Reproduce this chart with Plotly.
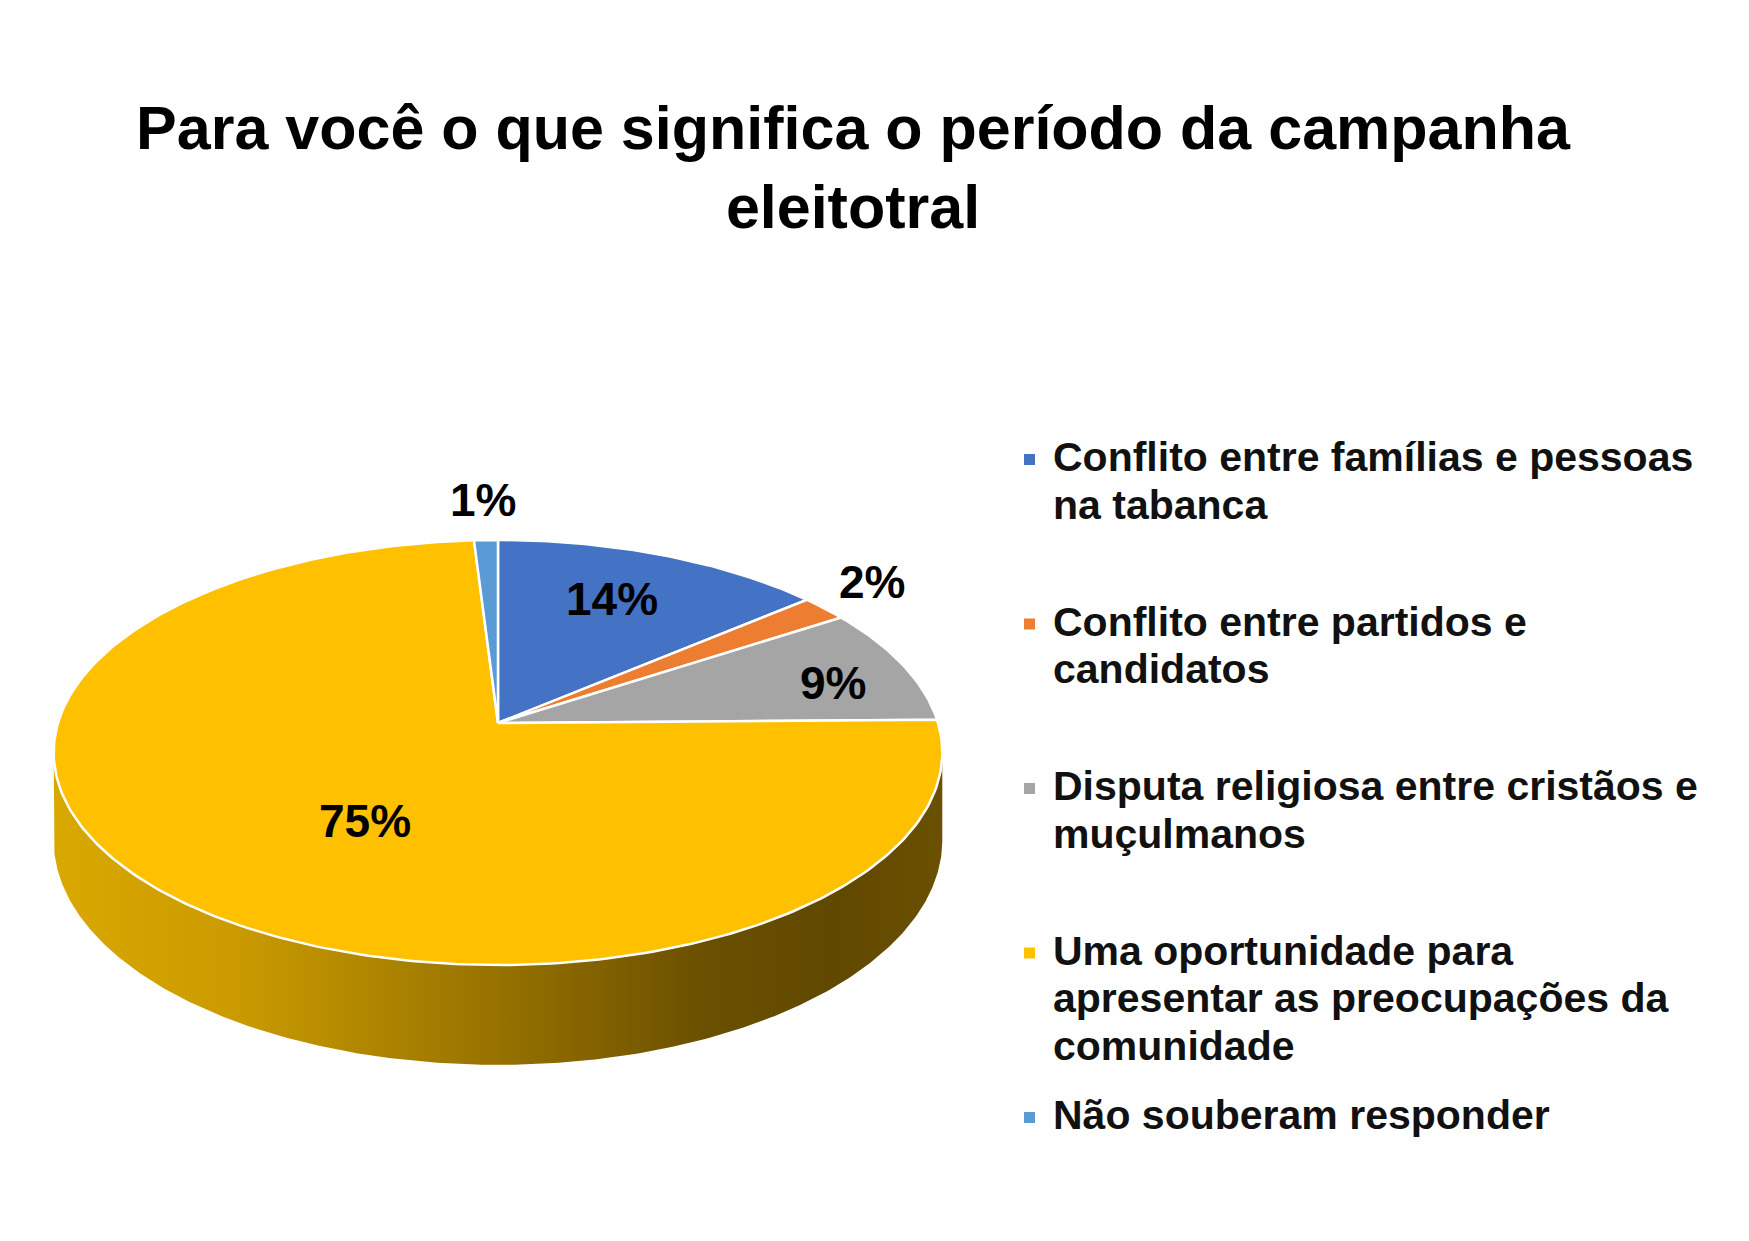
import numpy as np
import plotly.graph_objects as go

# ---------------- data ----------------
title_lines = ["Para você o que significa o período da campanha", "eleitotral"]
categories = [
    "Conflito entre famílias e pessoas na tabanca",
    "Conflito entre partidos e candidatos",
    "Disputa religiosa entre cristãos e muçulmanos",
    "Uma oportunidade para apresentar as preocupações da comunidade",
    "Não souberam responder",
]
values = [14, 2, 9, 75, 1]
value_labels = ["14%", "2%", "9%", "75%", "1%"]

# ---------------- style ----------------
colors = ["#4472C4", "#ED7D31", "#A5A5A5", "#FFC000", "#5B9BD5"]
W, H_FIG = 1749, 1241
FONT = "Arial, Liberation Sans, sans-serif"
CX, CY = 498.0, 723.0      # pie apex (pixels)
RX, RY = 440.0, 208.4      # projected radii
PERSP = 0.1388             # perspective strength
DEPTH = 86.0               # pie thickness
label_r = [0.71, 1.20, 0.807, 0.525, 1.26]
label_dphi = [-1.5, -2.0, 2.8, -10.0, 0.0]
legend_words = [[5, 2], [4, 1], [5, 1], [3, 4, 1], [3]]
legend_x, legend_y0, legend_item_gap, legend_line_gap = 1051, 457, 164.5, 47.5


def proj(u, v, h=0.0):
    u = np.asarray(u, float)
    v = np.asarray(v, float)
    d = 1.0 / (1.0 - PERSP * v)
    return CX + RX * u * d, CY + (RY * v + h) * d


total = float(sum(values))
cum = np.concatenate([[0.0], np.cumsum(values)]) / total
phi_edges = -np.pi / 2 + 2 * np.pi * cum

fig = go.Figure()

# side wall (front half of the cylinder, yellow slice)
phi_a = np.arcsin(PERSP)
ph = np.linspace(phi_a, np.pi - phi_a, 300)
xt, yt = proj(np.cos(ph), np.sin(ph), 0)
xb, yb = proj(np.cos(ph[::-1]), np.sin(ph[::-1]), DEPTH)
fig.add_trace(go.Scatter(
    x=np.concatenate([xt, xb, xt[:1]]), y=np.concatenate([yt, yb, yt[:1]]),
    mode="lines", fill="toself", line=dict(width=0, color="rgba(0,0,0,0)"),
    fillgradient=dict(type="horizontal", colorscale=[
        [0.0, "#D9A800"], [0.2, "#CB9B00"], [0.4, "#A88000"],
        [0.6, "#846300"], [0.73, "#6A5000"], [0.88, "#604800"], [1.0, "#6A5000"]]),
    hoverinfo="skip", showlegend=False))

# top face slices
for i, (cat, val) in enumerate(zip(categories, values)):
    p0, p1 = phi_edges[i], phi_edges[i + 1]
    n = max(8, int(400 * (p1 - p0) / (2 * np.pi)))
    pp = np.linspace(p0, p1, n)
    xs, ys = proj(np.cos(pp), np.sin(pp))
    x = np.concatenate([[CX], xs, [CX]])
    y = np.concatenate([[CY], ys, [CY]])
    fig.add_trace(go.Scatter(
        x=x, y=y, mode="lines", fill="toself", fillcolor=colors[i],
        line=dict(color="white", width=2.5), name=cat,
        hovertemplate=f"{cat}<br>{value_labels[i]}<extra></extra>",
        showlegend=False))

annotations = []
# slice labels
for i, lab in enumerate(value_labels):
    mid = (phi_edges[i] + phi_edges[i + 1]) / 2 + np.deg2rad(label_dphi[i])
    lx, ly = proj(label_r[i] * np.cos(mid), label_r[i] * np.sin(mid))
    annotations.append(dict(
        x=float(lx), y=float(ly), xref="x", yref="y", text=lab, showarrow=False,
        xanchor="center", yanchor="middle",
        font=dict(family=FONT, size=46, color="black", weight="bold")))

# legend (manual, Excel-like even spacing)
shapes = []
for k, cat in enumerate(categories):
    words = cat.split(" ")
    y0 = legend_y0 + k * legend_item_gap
    pos = 0
    for j, nw in enumerate(legend_words[k]):
        line = " ".join(words[pos:pos + nw])
        pos += nw
        annotations.append(dict(
            x=legend_x, y=y0 + j * legend_line_gap, xref="x", yref="y",
            text=line, showarrow=False, xanchor="left", yanchor="middle",
            font=dict(family=FONT, size=41, color="#111111", weight="bold")))
    shapes.append(dict(type="rect", xref="x", yref="y",
                       x0=legend_x - 27, x1=legend_x - 16, y0=y0 - 3, y1=y0 + 8,
                       fillcolor=colors[k], line=dict(width=0)))

fig.update_layout(
    width=W, height=H_FIG,
    margin=dict(l=0, r=0, t=0, b=0),
    paper_bgcolor="white", plot_bgcolor="white",
    title=dict(text="<br>".join(title_lines), x=853 / W, xanchor="center",
               y=1 - 149 / H_FIG, yanchor="top",
               font=dict(family=FONT, size=61, color="black", weight="bold")),
    xaxis=dict(range=[0, W], visible=False, fixedrange=True),
    yaxis=dict(range=[H_FIG, 0], visible=False, fixedrange=True),
    annotations=annotations, shapes=shapes,
    showlegend=False,
)

fig.write_html("out.html",
               config={"displayModeBar": False},
               post_script="document.body.style.margin='0';document.body.style.overflow='hidden';")
